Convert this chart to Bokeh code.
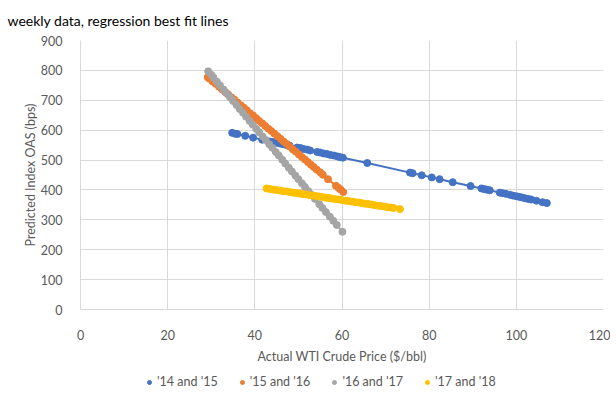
from bokeh.plotting import figure
from bokeh.layouts import column
from bokeh.models import Range1d, SingleIntervalTicker, Legend, LegendItem
from bokeh.embed import file_html
from bokeh.resources import INLINE

title_text = "weekly data, regression best fit lines"
x_label = "Actual WTI Crude Price ($/bbl)"
y_label = "Predicted Index OAS (bps)"

series_names = ["'14 and '15", "'15 and '16", "'16 and '17", "'17 and '18"]
series_colors = ["#4472C4", "#ED7D31", "#A5A5A5", "#FFC000"]

x_1415 = [34.8, 35.5, 36.0, 37.8, 39.6, 41.7, 43.5, 44.2, 45.0, 45.8, 46.5, 47.3, 48.0, 49.7,
          50.5, 51.2, 52.0, 52.7, 54.3, 55.0, 55.8, 56.6, 57.4, 58.2, 59.0, 59.5, 60.2, 65.8,
          75.6, 76.2, 78.3, 80.6, 82.4, 85.4, 89.5, 92.0, 92.6, 93.2, 93.9, 96.2, 96.9, 97.6,
          98.5, 99.2, 100.0, 100.6, 101.3, 102.0, 102.7, 103.4, 104.6, 106.0, 107.0]
y_1415 = [591, 588, 587, 581, 575, 568, 562, 560, 558, 555, 553, 550, 548, 542,
          540, 537, 535, 532, 527, 525, 522, 520, 517, 515, 512, 510, 508, 490,
          458, 456, 449, 442, 436, 426, 413, 405, 403, 401, 399, 391, 389, 387,
          384, 381, 379, 377, 375, 372, 370, 368, 364, 359, 356]

x_1516 = [29.2, 29.6, 30.3, 31.0, 31.8, 32.5, 33.2, 33.9, 34.6, 35.3, 36.0, 36.8, 37.5, 38.2,
          38.9, 39.6, 40.3, 41.0, 41.7, 42.4, 43.1, 43.8, 44.5, 45.2, 45.9, 46.6, 47.3, 48.0,
          48.7, 49.4, 50.1, 50.8, 51.5, 52.2, 52.9, 53.5, 54.2, 55.0, 55.6, 56.8, 58.6, 59.2,
          59.7, 60.3]
y_1516 = [777, 772, 763, 755, 745, 736, 728, 719, 710, 702, 693, 683, 675, 666,
          657, 649, 640, 631, 623, 614, 605, 597, 588, 580, 571, 562, 554, 545,
          536, 528, 519, 510, 502, 493, 484, 477, 468, 459, 451, 436, 414, 407,
          401, 393]

x_1617 = [29.3, 30.0, 30.5, 31.3, 32.0, 32.8, 33.5, 34.3, 35.0, 35.8, 36.5, 37.3, 38.0, 38.8,
          39.5, 40.3, 41.0, 41.8, 42.5, 43.3, 44.0, 44.8, 45.5, 46.3, 47.0, 47.8, 48.5, 49.3,
          50.0, 50.8, 51.5, 52.3, 53.0, 53.8, 54.8, 55.5, 56.3, 57.2, 58.0, 58.8, 60.1]
y_1617 = [797, 785, 776, 762, 750, 736, 724, 710, 698, 684, 671, 658, 645, 631,
          619, 605, 593, 579, 567, 553, 541, 527, 515, 501, 488, 474, 462, 448,
          436, 422, 410, 396, 384, 370, 352, 340, 326, 311, 297, 283, 260]

x_1718 = [42.7, 43.5, 44.3, 45.0, 45.8, 46.5, 47.3, 48.0, 48.8, 49.5, 50.3, 51.0, 51.8, 52.5,
          53.3, 54.0, 54.8, 55.5, 56.3, 57.0, 57.8, 58.5, 59.3, 60.0, 60.8, 61.5, 62.3, 63.0,
          63.8, 64.5, 65.3, 66.0, 66.8, 67.5, 68.3, 69.0, 69.8, 70.5, 71.3, 71.8, 73.3]
y_1718 = [405, 403, 401, 400, 398, 396, 395, 393, 391, 390, 388, 386, 385, 383,
          381, 380, 378, 376, 374, 373, 371, 369, 368, 366, 364, 363, 361, 359,
          358, 356, 354, 353, 351, 349, 347, 346, 344, 342, 341, 340, 336]

series_x = [x_1415, x_1516, x_1617, x_1718]
series_y = [y_1415, y_1516, y_1617, y_1718]

FONT = "Lato"
TXT = "#595959"

p = figure(width=610, height=366, output_backend="svg", toolbar_location=None,
           x_range=Range1d(0, 120), y_range=Range1d(0, 900),
           min_border_left=80, min_border_right=7, min_border_top=40, min_border_bottom=53,
           title=title_text)
p.outline_line_color = None
p.background_fill_color = "white"
p.border_fill_color = "white"

p.title.text_font = FONT
p.title.text_font_size = "14px"
p.title.text_font_style = "normal"
p.title.text_color = "#000000"
p.title.align = "left"
p.title.vertical_align = "top"
p.title.offset = -73
p.title.standoff = 20

for ax in (p.xaxis[0], p.yaxis[0]):
    ax.major_tick_line_color = None
    ax.minor_tick_line_color = None
    ax.axis_line_color = "#D9D9D9"
    ax.major_label_text_font = FONT
    ax.major_label_text_font_size = "12.5px"
    ax.major_label_text_color = TXT
    ax.axis_label_text_font = FONT
    ax.axis_label_text_font_size = "12.5px"
    ax.axis_label_text_font_style = "normal"
    ax.axis_label_text_color = TXT

p.xaxis.ticker = SingleIntervalTicker(interval=20)
p.yaxis.ticker = SingleIntervalTicker(interval=100)
p.xaxis.axis_label = x_label
p.yaxis.axis_label = y_label
p.xaxis.major_label_standoff = 14
p.xaxis.axis_label_standoff = 6
p.yaxis.major_label_standoff = 12
p.yaxis.axis_label_standoff = 0

p.xgrid.ticker = SingleIntervalTicker(interval=20)
p.ygrid.ticker = SingleIntervalTicker(interval=100)
for g in (p.xgrid[0], p.ygrid[0]):
    g.grid_line_color = "#D9D9D9"
    g.grid_line_width = 1

for name, color, xs, ys in zip(series_names, series_colors, series_x, series_y):
    p.line(xs, ys, line_color=color, line_width=2)
    p.scatter(xs, ys, marker="circle", size=7, fill_color=color, line_color=color)

# legend strip below the chart (its renderers' points lie outside its range)
lg = figure(width=610, height=30, output_backend="svg", toolbar_location=None,
            x_range=Range1d(-2, -1), y_range=Range1d(-2, -1),
            x_axis_location=None, y_axis_location=None,
            min_border=0, min_border_left=0, min_border_right=0,
            min_border_top=0, min_border_bottom=0)
lg.grid.visible = False
lg.outline_line_color = None
items = []
for name, color, xs, ys in zip(series_names, series_colors, series_x, series_y):
    r = lg.scatter(x=xs[:1], y=ys[:1], marker="circle", size=7, fill_color=color, line_color=color)
    items.append(LegendItem(label=name, renderers=[r]))
legend = Legend(items=items, orientation="horizontal", location=(64, 7),
                glyph_width=10, glyph_height=10, label_standoff=3, spacing=19,
                label_text_font=FONT, label_text_font_size="12.5px", label_text_color=TXT,
                border_line_color=None, background_fill_alpha=0, margin=0, padding=4)
lg.add_layout(legend, "center")

layout = column(p, lg, spacing=0)
open("out.html", "w").write(file_html(layout, INLINE))
